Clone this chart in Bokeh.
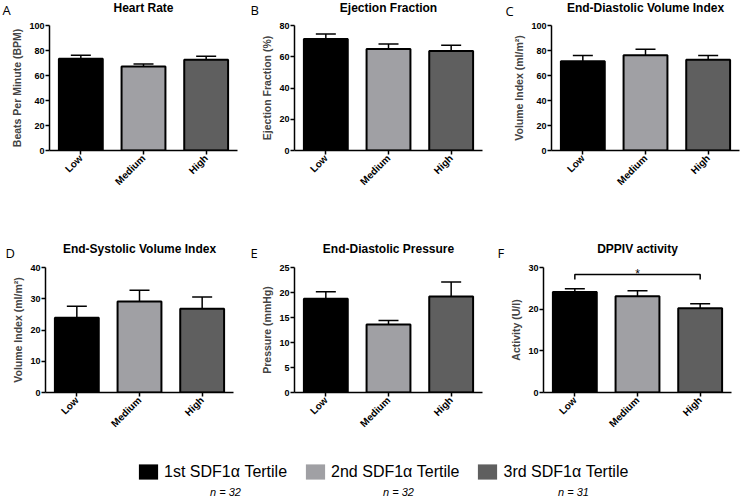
import math
from bokeh.plotting import figure
from bokeh.layouts import row, column
from bokeh.models import (Range1d, FactorRange, ColumnDataSource, Whisker, TeeHead,
                          Label, Legend, LegendItem, FixedTicker)
from bokeh.embed import file_html
from bokeh.resources import INLINE

# ---------------- data ----------------
categories = ["Low", "Medium", "High"]
tertile_labels = ["1st SDF1\u03b1 Tertile", "2nd SDF1\u03b1 Tertile", "3rd SDF1\u03b1 Tertile"]
n_counts = [32, 32, 31]
tertile_colors = ["#000000", "#a0a0a4", "#5f5f5f"]

heart_rate = [73.5, 67.2, 72.7]
heart_rate_sem = [2.8, 2.0, 2.7]

ejection_fraction = [71.3, 65.0, 63.7]
ejection_fraction_sem = [3.2, 3.2, 3.6]

edv_index = [71.5, 76.3, 72.6]
edv_index_sem = [4.6, 4.8, 3.5]

esv_index = [23.9, 29.1, 26.8]
esv_index_sem = [3.7, 3.6, 3.8]

ed_pressure = [18.75, 13.6, 19.2]
ed_pressure_sem = [1.4, 0.8, 2.9]

dppiv_activity = [24.1, 23.1, 20.2]
dppiv_activity_sem = [0.8, 1.3, 1.1]

dppiv_sig_y = 28.3
dppiv_sig_tick = 27.1

# ---------------- styling / layout ----------------
BOLD_FONT = "Liberation Sans"
PAGE_W = 741
FRAME_W = 188
FRAME_H = 125
PANEL_TOP = 6


def make_panel(ylabel, means, sems, ymax, ystep, x0, width, height, frame_left):
    left = frame_left - x0
    right = width - left - FRAME_W
    bottom = height - PANEL_TOP - FRAME_H
    p = figure(x_range=FactorRange(*categories), y_range=Range1d(0, ymax),
               width=width, height=height,
               min_border_left=left, min_border_right=right,
               min_border_top=PANEL_TOP, min_border_bottom=bottom,
               output_backend="svg", toolbar_location=None, tools="")
    src = ColumnDataSource(dict(
        x=categories, top=means,
        upper=[m + s for m, s in zip(means, sems)],
        color=tertile_colors))
    p.vbar(x="x", top="top", width=0.7, source=src, fill_color="color",
           line_color="black", line_width=2)
    p.add_layout(Whisker(source=src, base="x", lower="top", upper="upper",
                         line_width=1.5, line_color="black",
                         upper_head=TeeHead(size=20, line_width=1.5, line_color="black"),
                         lower_head=None, level="overlay"))

    p.xgrid.visible = False
    p.ygrid.visible = False
    p.outline_line_color = None

    for ax in (p.xaxis[0], p.yaxis[0]):
        ax.axis_line_width = 1.5
        ax.axis_line_color = "black"
        ax.major_tick_line_width = 1.5
        ax.major_tick_line_color = "black"
        ax.major_tick_out = 4
        ax.major_tick_in = 0
        ax.minor_tick_line_color = None
        ax.major_label_text_font = BOLD_FONT
        ax.major_label_text_font_style = "bold"
        ax.major_label_text_color = "black"

    p.xaxis.major_label_orientation = math.pi / 4
    p.xaxis.major_label_text_font_size = "10px"
    p.xaxis.major_label_standoff = 2

    p.yaxis.ticker = FixedTicker(ticks=list(range(0, ymax + 1, ystep)))
    p.yaxis.major_label_text_font_size = "9px"
    p.yaxis.major_label_standoff = 1
    p.yaxis.axis_label = ylabel
    p.yaxis.axis_label_text_font = BOLD_FONT
    p.yaxis.axis_label_text_font_style = "bold"
    p.yaxis.axis_label_text_font_size = "10.5px"
    p.yaxis.axis_label_standoff = 3
    return p


def make_header(height, titles, letters):
    h = figure(width=PAGE_W, height=height, x_range=Range1d(0, PAGE_W), y_range=Range1d(0, height),
               min_border=0, x_axis_location=None, y_axis_location=None,
               output_backend="svg", toolbar_location=None, tools="")
    h.grid.visible = False
    h.outline_line_color = None
    for text, cx, cy in titles:
        h.add_layout(Label(x=cx, y=cy, text=text, text_font=BOLD_FONT, text_font_style="bold",
                           text_font_size="12px", text_align="center", text_baseline="middle",
                           text_color="black"))
    for text, lx, cy in letters:
        h.add_layout(Label(x=lx, y=cy, text=text, text_font="Open Sans",
                           text_font_size="13px", text_align="left", text_baseline="middle",
                           text_color="black"))
    return h


# row geometry: (figure x0, figure width, frame left)
row1_geom = [(0, 245, 49), (245, 250, 294), (495, 246, 551)]
row2_geom = [(0, 245, 45), (245, 245, 294), (490, 251, 543)]
H_HEAD1, H_ROW1, H_HEAD2, H_ROW2, H_LEG = 19, 219, 23, 187, 50

pA = make_panel("Beats Per Minute (BPM)", heart_rate, heart_rate_sem, 100, 20,
                *row1_geom[0][:2], H_ROW1, row1_geom[0][2])
pB = make_panel("Ejection Fraction (%)", ejection_fraction, ejection_fraction_sem, 80, 20,
                *row1_geom[1][:2], H_ROW1, row1_geom[1][2])
pC = make_panel("Volume Index (ml/m\u00b2)", edv_index, edv_index_sem, 100, 20,
                *row1_geom[2][:2], H_ROW1, row1_geom[2][2])
pD = make_panel("Volume Index (ml/m\u00b2)", esv_index, esv_index_sem, 40, 10,
                *row2_geom[0][:2], H_ROW2, row2_geom[0][2])
pE = make_panel("Pressure (mmHg)", ed_pressure, ed_pressure_sem, 25, 5,
                *row2_geom[1][:2], H_ROW2, row2_geom[1][2])
pF = make_panel("Activity (U/l)", dppiv_activity, dppiv_activity_sem, 30, 10,
                *row2_geom[2][:2], H_ROW2, row2_geom[2][2])

# significance bracket
pF.line(x=[categories[0], categories[0], categories[2], categories[2]],
        y=[dppiv_sig_tick, dppiv_sig_y, dppiv_sig_y, dppiv_sig_tick],
        line_color="black", line_width=1.5)
pF.add_layout(Label(x=categories.index("Medium") + 0.5, y=dppiv_sig_y, text="*",
                    text_font=BOLD_FONT, text_font_size="12px", text_align="center",
                    text_baseline="alphabetic", y_offset=1, text_color="black"))

titles1 = ["Heart Rate", "Ejection Fraction", "End-Diastolic Volume Index"]
titles2 = ["End-Systolic Volume Index", "End-Diastolic Pressure", "DPPIV activity"]

head1 = make_header(
    H_HEAD1,
    [(t, g[2] + FRAME_W / 2, 12) for t, g in zip(titles1, row1_geom)],
    [("A", 2, 10), ("B", 250, 9.5), ("C", 505, 9)])
head2 = make_header(
    H_HEAD2,
    [(t, g[2] + FRAME_W / 2, 13) for t, g in zip(titles2, row2_geom)],
    [("D", 5, 9), ("E", 250, 9), ("F", 497, 9)])

# ---------------- legend ----------------
leg = figure(width=PAGE_W, height=H_LEG, x_range=Range1d(0, PAGE_W), y_range=Range1d(0, H_LEG),
             min_border=0, x_axis_location=None, y_axis_location=None,
             output_backend="svg", toolbar_location=None, tools="")
leg.grid.visible = False
leg.outline_line_color = None
nan = float("nan")
rends = [leg.rect(x=[nan], y=[nan], width=1, height=1, fill_color=c, line_color=None)
         for c in tertile_colors]
legend = Legend(items=[LegendItem(label=l, renderers=[r]) for l, r in zip(tertile_labels, rends)],
                location=(136, 17), orientation="horizontal",
                glyph_width=24, glyph_height=19, label_standoff=4, spacing=16,
                padding=0, margin=0, border_line_color=None, background_fill_alpha=0,
                label_text_font="Liberation Sans", label_text_font_size="16px",
                label_text_color="black")
leg.add_layout(legend)
for cx, n in zip([225, 398, 573], n_counts):
    leg.add_layout(Label(x=cx, y=7, text=f"n = {n}", text_font="Liberation Sans",
                         text_font_style="italic", text_font_size="11px",
                         text_align="center", text_baseline="middle", text_color="black"))

layout = column(head1, row(pA, pB, pC, spacing=0), head2, row(pD, pE, pF, spacing=0), leg,
                spacing=0)

open("out.html", "w").write(file_html(layout, INLINE))
